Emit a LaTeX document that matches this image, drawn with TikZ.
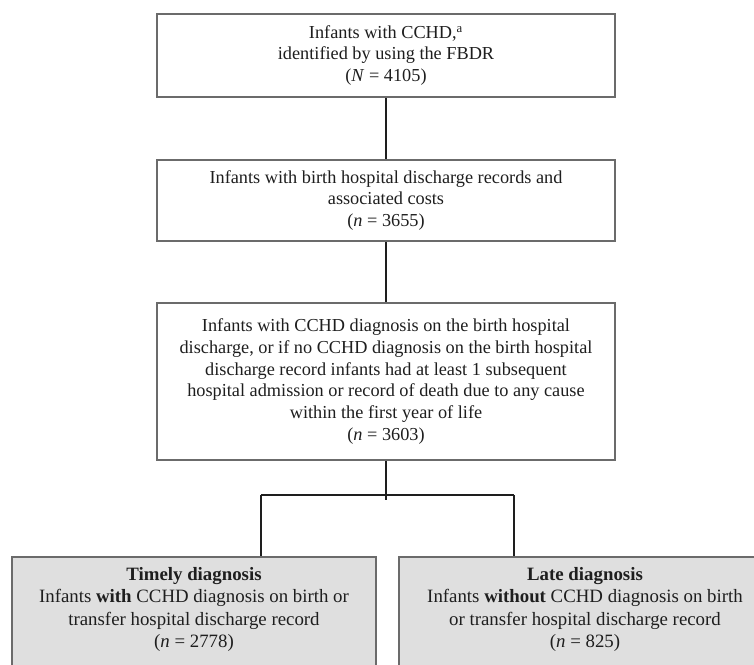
\documentclass[tikz,border=0pt]{standalone}
\usepackage{fontspec}
\setmainfont{Liberation Serif}
\usetikzlibrary{positioning}

\definecolor{edgegray}{HTML}{6B6B6B}
\definecolor{panelgray}{HTML}{DFDFDF}
\definecolor{inkdark}{HTML}{1E1E1E}

\begin{document}
\begin{tikzpicture}[
  x=0.25mm, y=-0.25mm,
  stage/.style   = {draw=edgegray, line width=0.5mm, align=center, inner sep=0pt,
                    minimum width=114.5mm, text=inkdark, font=\fontsize{13}{15.5}\selectfont},
  outcome/.style = {stage, fill=panelgray, anchor=north, inner ysep=2.6mm, text depth=12mm,
                    font=\fontsize{13.4}{15.9}\selectfont},
  link/.style    = {draw=inkdark, line width=0.5mm},
  node distance=15mm
]
\useasboundingbox (0,0) rectangle (754,665);
\clip (0,0) rectangle (754,665);

% Nodes
\node[stage, minimum height=20.75mm] at (386,55.5) (cohort)
  {\rule{0pt}{3mm}Infants with CCHD,\textsuperscript{a}\\identified by using the FBDR\\(\textit{N} = 4105)};
\node[stage, minimum height=20.25mm, below=15.25mm of cohort] (costs)
  {Infants with birth hospital discharge records and\\associated costs\\(\textit{n} = 3655)};
\node[stage, minimum height=39.25mm, below=15mm of costs] (dx)
  {Infants with CCHD diagnosis on the birth hospital\\discharge, or if no CCHD diagnosis on the birth hospital\\discharge record infants had at least 1 subsequent\\hospital admission or record of death due to any cause\\within the first year of life\\(\textit{n} = 3603)};

% Outcome groups
\node[outcome, minimum width=91mm] at (194,556) (timely)
  {\textbf{Timely diagnosis}\\Infants \textbf{with} CCHD diagnosis on birth or\\transfer hospital discharge record\\(\textit{n} = 2778)};
\node[outcome, minimum width=93mm] at (585,556) (late)
  {\textbf{Late diagnosis}\\Infants \textbf{without} CCHD diagnosis on birth\\or transfer hospital discharge record\\(\textit{n} = 825)};

% Split point
\coordinate[below=9.75mm of dx] (split);
\coordinate (splitL) at (261,495);
\coordinate (splitR) at (514,495);

% Connections
\draw[link] (cohort) -- (costs);
\draw[link] (costs) -- (dx);
\draw[link] (dx) -- (split);
\draw[link] (splitL) -- (splitR);
\draw[link] (splitL) -- (splitL |- timely.north);
\draw[link] (splitR) -- (splitR |- late.north);

\end{tikzpicture}
\end{document}
